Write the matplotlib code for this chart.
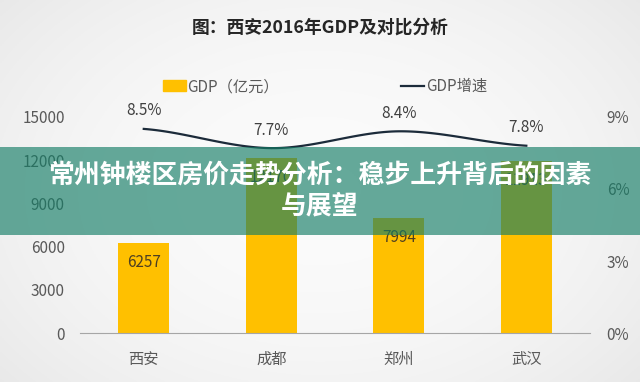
import numpy as np
import matplotlib
matplotlib.use("Agg")
import matplotlib.pyplot as plt
from matplotlib.patches import Patch, Rectangle
from matplotlib.lines import Line2D

plt.rcParams['font.family'] = ['Noto Sans CJK SC', 'DejaVu Sans']

cities = ["西安", "成都", "郑州", "武汉"]
gdp = [6257, 12170, 7994, 11913]
growth = [8.5, 7.7, 8.4, 7.8]
left_ticks = [0, 3000, 6000, 9000, 12000, 15000]
right_ticks = [0, 3, 6, 9]
title = "图：西安2016年GDP及对比分析"
banner = "常州钟楼区房价走势分析：稳步上升背后的因素\n与展望"

bar_color = "#FFC000"
line_color = "#1c2b3a"
text_color = "#595959"


def smooth(xs, ys, n=40):
    # catmull-rom so the growth line bends like the excel one
    xs = np.asarray(xs, float)
    ys = np.asarray(ys, float)
    px = np.concatenate([[2 * xs[0] - xs[1]], xs, [2 * xs[-1] - xs[-2]]])
    py = np.concatenate([[ys[0]], ys, [ys[-1]]])
    out_x, out_y = [], []
    for i in range(1, len(px) - 2):
        t = np.linspace(0, 1, n)
        for p, out in ((px, out_x), (py, out_y)):
            p0, p1, p2, p3 = p[i - 1], p[i], p[i + 1], p[i + 2]
            out.extend(0.5 * (2 * p1 + (-p0 + p2) * t
                              + (2 * p0 - 5 * p1 + 4 * p2 - p3) * t ** 2
                              + (-p0 + 3 * p1 - 3 * p2 + p3) * t ** 3))
    return out_x, out_y


fig = plt.figure(figsize=(6.4, 3.82), dpi=100)

# soft grey background, lighter in the middle
bg = fig.add_axes([0, 0, 1, 1], zorder=-5)
yy, xx = np.mgrid[-1:1:200j, -1:1:300j]
shade = 0.985 - 0.06 * (xx ** 2 * 0.7 + yy ** 2 * 0.5)
bg.imshow(np.dstack([shade] * 3), aspect="auto", extent=[0, 1, 0, 1])
bg.axis("off")

ax = fig.add_axes([0.125, 0.128, 0.797, 0.566])
ax.patch.set_alpha(0)
x = np.arange(len(cities))
bars = ax.bar(x, gdp, width=0.4, color=bar_color, zorder=2)
for b, v in zip(bars, gdp):
    ax.text(b.get_x() + b.get_width() / 2, v - 1350, str(v), ha="center", va="center",
            fontsize=11, color="#4d3f22", zorder=3)

ax.set_xlim(-0.5, 3.5)
ax.set_ylim(0, 15000)
ax.set_yticks(left_ticks)
ax.set_xticks(x)
ax.set_xticklabels(cities)
ax.tick_params(length=0, colors=text_color, labelsize=11)
ax.tick_params(axis="y", pad=11)
ax.tick_params(axis="x", pad=13)
for s in ["top", "right", "left"]:
    ax.spines[s].set_visible(False)
ax.spines["bottom"].set_color("#a6a6a6")

ax2 = ax.twinx()
ax2.set_ylim(0, 9)
ax2.set_yticks(right_ticks)
ax2.set_yticklabels([f"{t}%" for t in right_ticks])
ax2.tick_params(length=0, colors=text_color, labelsize=11, pad=12)
for s in ax2.spines.values():
    s.set_visible(False)
sx, sy = smooth(x, growth)
ax2.plot(sx, sy, color=line_color, lw=1.6, zorder=4)
for xi, g in zip(x, growth):
    ax2.text(xi, g + 0.75, f"{g}%", ha="center", va="center", fontsize=11,
             color="#404040")

handles = [Patch(color=bar_color), Line2D([], [], color=line_color, lw=1.6)]
ax.legend(handles, ["GDP（亿元）", "GDP增速"], ncol=2, loc="center",
          bbox_to_anchor=(0.48, 1.14), frameon=False, fontsize=11,
          columnspacing=8, handlelength=1.5, handletextpad=0.1,
          labelcolor=text_color)

fig.text(0.5, 0.927, title, ha="center", va="center", fontsize=12.8,
         fontweight="bold", color="#262626")

# green banner across the middle
fig.add_artist(Rectangle((0, 0.385), 1, 0.231, transform=fig.transFigure,
                         color=(0.08, 0.49, 0.40), alpha=0.65, lw=0, zorder=10))
fig.text(0.5, 0.501, banner, ha="center", va="center", fontsize=18.6,
         fontweight="bold", color="white", linespacing=1.2, zorder=11)

fig.savefig("out.png", dpi=100)
